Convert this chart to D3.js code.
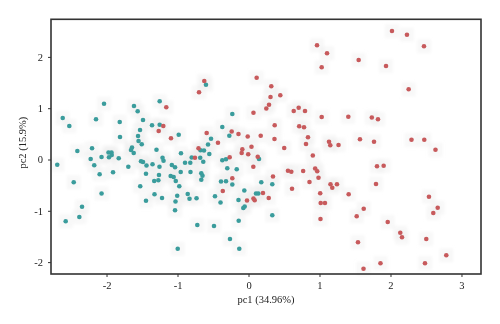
<!DOCTYPE html>
<html>
<head>
<meta charset="utf-8">
<script src="https://cdn.jsdelivr.net/npm/d3@7"></script>
<style>
  html, body { margin: 0; padding: 0; background: #fff; }
  svg { display: block; }
  .axis text { font-family: "Liberation Serif", "Times New Roman", serif; font-size: 10.5px; fill: #222; }
  .axis path, .axis line { stroke: #333; }
</style>
</head>
<body>
<div id="chart"></div>
<script>
// PCA scores, group 1 (teal)
const groupA = [
  [-2.035,1.088],[-1.613,1.043],[-1.251,1.135],[-1.561,0.940],[-2.617,0.809],[-2.148,0.784],
  [-1.814,0.731],[-2.524,0.653],[-1.486,0.770],[-1.359,0.667],[-1.251,0.678],[-1.528,0.575],
  [-0.983,0.483],[-1.810,0.439],[-1.556,0.458],[-1.549,0.361],[-1.504,0.296],[-2.411,0.166],
  [-2.204,0.218],[-1.972,0.136],[-1.930,0.136],[-1.927,0.088],[-1.965,0.045],[-1.641,0.234],
  [-1.655,0.185],[-1.617,0.127],[-1.296,0.191],[-0.951,0.123],[-2.223,0.010],[-2.070,0.049],
  [-1.828,0.025],[-1.211,0.033],[-1.197,-0.023],[-1.514,-0.035],[-1.486,-0.049],[-2.694,-0.103],
  [-2.173,-0.111],[-1.693,-0.140],[-1.437,-0.117],[-1.352,-0.092],[-1.254,-0.142],[-1.080,-0.107],
  [-1.035,-0.150],[-0.894,-0.062],[-2.097,-0.288],[-1.908,-0.248],[-1.444,-0.277],[-1.261,-0.302],
  [-1.096,-0.322],[-1.054,-0.341],[-0.955,-0.244],[-2.462,-0.444],[-1.525,-0.522],[-1.328,-0.419],
  [-1.270,-0.404],[-1.024,-0.419],[-0.975,-0.520],[-2.070,-0.663],[-1.444,-0.805],[-1.324,-0.676],
  [-1.218,-0.750],[-1.004,-0.706],[-1.028,-0.819],[-0.856,-0.673],[-0.831,-0.764],[-2.345,-0.920],
  [-2.575,-1.205],[-2.383,-1.121],[-1.035,-0.990],[-0.997,-1.739],
  [-0.228,0.887],[-0.599,1.458],[-0.369,0.634],[-0.270,0.464],[-0.528,0.405],[-0.570,0.292],
  [-0.676,0.179],[-0.627,0.175],[-0.552,0.107],[-0.800,0.039],[-0.680,0.035],[-0.820,-0.062],
  [-0.637,-0.043],[-0.817,-0.244],[-0.665,-0.269],[-0.648,-0.318],[-0.665,-0.394],[-0.369,-0.016],
  [-0.317,0.004],[-0.299,-0.172],[-0.166,-0.191],[-0.387,-0.429],[-0.317,-0.423],[-0.228,-0.487],
  [0.180,-0.444],[0.335,-0.483],[0.148,0.010],[-0.732,-0.756],[-0.472,-0.715],[-0.394,-0.838],
  [-0.141,-0.789],[-0.059,-0.604],[0.106,-0.663],[0.138,-0.663],[-0.073,-0.945],[-0.054,-0.916],
  [0.335,-1.088],[-0.138,-1.193],[-0.721,-1.277],[-0.486,-1.296],[-0.261,-1.550],[-0.130,-1.739]
];

// PCA scores, group 2 (red)
const groupB = [
  [2.021,2.505],[2.232,2.433],[2.472,2.207],[0.965,2.226],[1.106,2.070],[1.552,1.940],
  [1.937,1.823],[1.031,1.797],[2.256,1.368],[0.115,1.595],[-0.623,1.530],[-0.697,1.310],
  [0.321,1.427],[0.310,1.218],[0.448,1.253],[0.289,1.068],[0.251,0.994],[0.070,0.910],
  [0.637,0.945],[0.707,1.010],[0.796,0.945],[1.031,0.828],[1.406,0.834],[1.737,0.819],
  [1.824,0.784],[0.369,0.669],[0.714,0.649],[0.782,0.628],[-0.589,0.517],[-0.237,0.546],
  [-0.141,0.497],[-0.011,0.448],[0.172,0.464],[0.366,0.400],[0.838,0.433],[0.810,0.302],
  [-0.430,0.327],[0.042,0.250],[-0.087,0.201],[-0.096,0.127],[0.503,0.224],[-0.704,0.220],
  [-0.004,0.103],[0.130,0.053],[-0.265,0.043],[-0.754,0.035],[0.906,0.078],[1.134,0.347],
  [1.152,0.279],[1.268,0.283],[1.570,0.396],[1.768,0.347],[2.296,0.384],[2.476,0.384],
  [2.634,0.189],[1.810,-0.133],[1.904,-0.121],[0.068,-0.140],[0.939,-0.175],[0.968,-0.228],
  [0.556,-0.220],[0.603,-0.238],[0.770,-0.224],[0.345,-0.331],[-0.228,-0.366],[0.859,-0.439],
  [0.986,-0.357],[1.155,-0.483],[1.180,-0.550],[1.246,-0.483],[1.796,-0.478],[0.613,-0.571],
  [-0.362,-0.614],[0.204,-0.653],[1.010,-0.659],[1.411,-0.678],[2.542,-0.725],[-0.021,-0.799],
  [0.070,-0.760],[0.087,-0.795],[0.285,-0.750],[1.017,-0.848],[1.077,-0.848],[1.623,-0.959],
  [1.524,-1.107],[2.665,-0.940],[2.603,-1.043],[1.014,-1.160],[1.961,-1.218],[2.138,-1.427],
  [2.162,-1.517],[2.504,-1.550],[1.542,-1.614],[2.786,-1.867],[1.859,-2.021],[2.486,-2.021],
  [1.620,-2.131],
  [-1.158,1.018],[-1.200,0.653],[-1.265,0.556],[-1.092,0.413]
];

const xTicks = [-2, -1, 0, 1, 2, 3];
const yTicks = [-2, -1, 0, 1, 2];
const xTitle = "pc1 (34.96%)";
const yTitle = "pc2 (15.9%)";

const W = 500, H = 324;
const margin = { top: 19.3, right: 19, bottom: 50, left: 51 };
const iw = W - margin.left - margin.right;
const ih = H - margin.top - margin.bottom;

const x = d3.scaleLinear().domain([-2.782, 3.275]).range([0, iw]);
const y = d3.scaleLinear().domain([-2.232, 2.733]).range([ih, 0]);

const svg = d3.select("#chart").append("svg").attr("width", W).attr("height", H);

const defs = svg.append("defs");
defs.append("filter").attr("id", "soft")
  .attr("x", "-50%").attr("y", "-50%").attr("width", "200%").attr("height", "200%")
  .append("feGaussianBlur").attr("stdDeviation", 1.4);

const g = svg.append("g").attr("transform", `translate(${margin.left},${margin.top})`);

// faint square halo behind every marker
const all = groupA.map(d => ({ d, c: "#3a9c9c" })).concat(groupB.map(d => ({ d, c: "#c75a5c" })));
g.append("g").attr("filter", "url(#soft)")
  .selectAll("rect").data(all).join("rect")
  .attr("x", p => x(p.d[0]) - 7).attr("y", p => y(p.d[1]) - 7)
  .attr("width", 14).attr("height", 14)
  .attr("fill", "#ebebeb").attr("opacity", 0.35);

g.append("g").selectAll("circle").data(all).join("circle")
  .attr("cx", p => x(p.d[0])).attr("cy", p => y(p.d[1]))
  .attr("r", 2.3).attr("fill", p => p.c);

// frame
g.append("rect").attr("x", 0).attr("y", 0).attr("width", iw).attr("height", ih)
  .attr("fill", "none").attr("stroke", "#333").attr("stroke-width", 1.6);

const fmt = d => String(d);

const ax = g.append("g").attr("class", "axis").attr("transform", `translate(0,${ih})`)
  .call(d3.axisBottom(x).tickValues(xTicks).tickSize(3).tickPadding(5).tickFormat(fmt));
ax.select(".domain").remove();

const ay = g.append("g").attr("class", "axis")
  .call(d3.axisLeft(y).tickValues(yTicks).tickSize(3).tickPadding(5).tickFormat(fmt));
ay.select(".domain").remove();

svg.append("text")
  .attr("x", margin.left + iw / 2).attr("y", 303)
  .attr("text-anchor", "middle")
  .style("font-family", "'Liberation Serif', 'Times New Roman', serif").style("font-size", "10.5px").style("fill", "#222")
  .text(xTitle);

svg.append("text")
  .attr("transform", `translate(26,${margin.top + ih / 2 - 4}) rotate(-90)`)
  .attr("text-anchor", "middle")
  .style("font-family", "'Liberation Serif', 'Times New Roman', serif").style("font-size", "10.5px").style("fill", "#222")
  .text(yTitle);
</script>
</body>
</html>
